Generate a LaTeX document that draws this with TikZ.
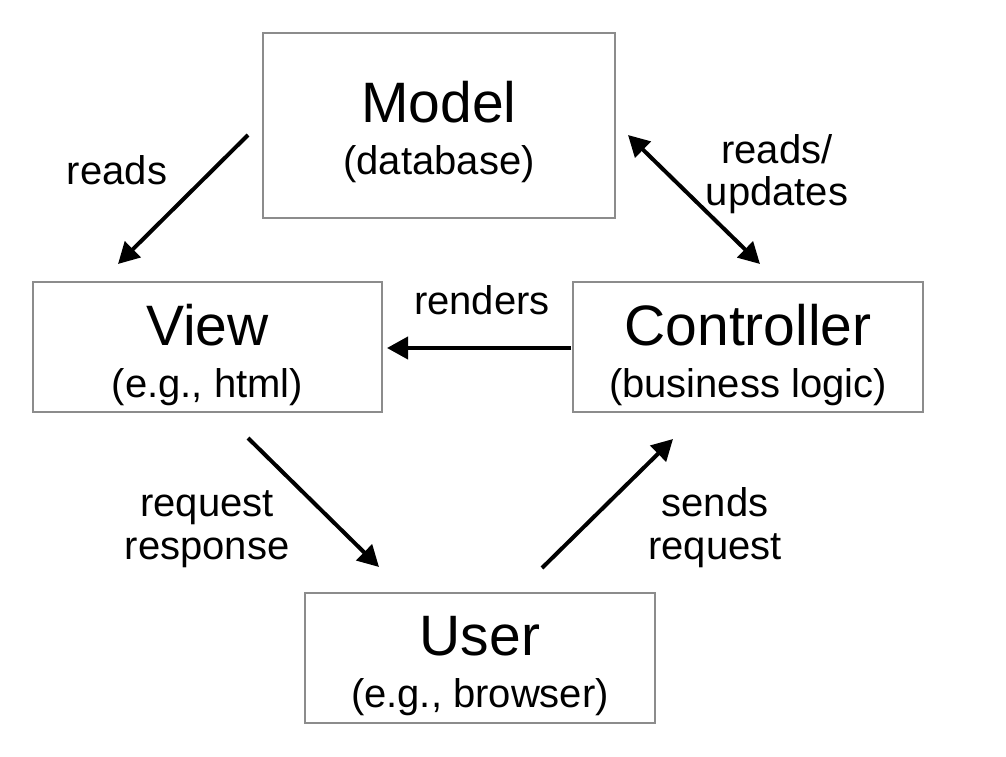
\documentclass[tikz,border=0pt]{standalone}
\usepackage{fontspec}
\setmainfont{Liberation Sans}
\usetikzlibrary{arrows.meta}
\begin{document}
\begin{tikzpicture}[x=1pt,y=-1pt,
  box/.style={draw=boxgray,line width=2pt,fill=white},
  ttl/.style={anchor=base,inner sep=0pt,font=\fontsize{57}{60}\selectfont},
  sub/.style={anchor=base,inner sep=0pt,font=\fontsize{40}{44}\selectfont},
  lbl/.style={anchor=base,inner sep=0pt,font=\fontsize{40}{43}\selectfont,align=center},
  arr/.style={line width=4pt,-{Triangle[length=21pt,width=22pt]}},
  darr/.style={line width=4pt,{Triangle[length=21pt,width=22pt]}-{Triangle[length=21pt,width=22pt]}}
]
\definecolor{boxgray}{RGB}{140,140,140}
\useasboundingbox (0,0) rectangle (1006,757);
\fill[white] (0,0) rectangle (1006,757);

% boxes
\draw[box] (263,33) rectangle (615,218) coordinate[pos=0.5] (model);
\draw[box] (33,282) rectangle (382,412) coordinate[pos=0.5] (view);
\draw[box] (573,282) rectangle (923,412) coordinate[pos=0.5] (ctrl);
\draw[box] (305,593) rectangle (655,723) coordinate[pos=0.5] (user);

% box texts
\node[ttl] (modelT) at (439,123) {Model};
\node[sub] (modelS) at (439,174) {(database)};
\node[ttl] (viewT) at (207.5,345) {View};
\node[sub] (viewS) at (207.5,397) {(e.g., html)};
\node[ttl] (ctrlT) at (748,345) {Controller};
\node[sub] (ctrlS) at (748,397) {(business logic)};
\node[ttl] (userT) at (480,655) {User};
\node[sub] (userS) at (480,707) {(e.g., browser)};

% arrow end points
\coordinate (a1s) at (248,135);
\coordinate (a1e) at (118,264);
\coordinate (a2s) at (628,135);
\coordinate (a2e) at (760,264);
\coordinate (a3s) at (571,348);
\coordinate (a3e) at (387,348);
\coordinate (a4s) at (248,438);
\coordinate (a4e) at (379,567);
\coordinate (a5s) at (542,568);
\coordinate (a5e) at (673,439);

\draw[arr] (a1s) -- (a1e);
\draw[darr] (a2s) -- (a2e);
\draw[arr] (a3s) -- (a3e);
\draw[arr] (a4s) -- (a4e);
\draw[arr] (a5s) -- (a5e);

% labels
\node[lbl] (l1) at (117,184) {reads};
\node[lbl] (l2a) at (777,164) {reads/};
\node[lbl] (l2b) at (777,205) {updates};
\node[lbl] (l3) at (482,314) {renders};
\node[lbl] (l4a) at (207,516) {request};
\node[lbl] (l4b) at (207,559) {response};
\node[lbl] (l5a) at (715,516) {sends};
\node[lbl] (l5b) at (715,559) {request};
\end{tikzpicture}
\end{document}
